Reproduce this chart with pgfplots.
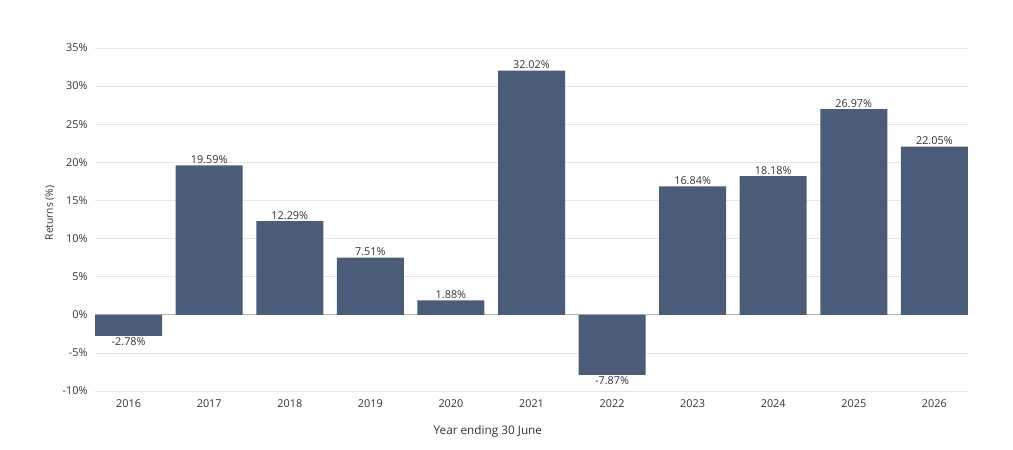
\documentclass[border=0pt]{standalone}
\usepackage{pgfplots}
\pgfplotsset{compat=1.18}
\usepackage{fontspec}
\setmainfont{Open Sans}
\definecolor{barc}{HTML}{4A5C78}
\definecolor{txt}{HTML}{333333}
\begin{document}
\begin{tikzpicture}[x=1bp,y=1bp]
\useasboundingbox (0,0) rectangle (1013,450);
\begin{axis}[
  at={(95bp,59bp)}, anchor=south west,
  scale only axis, width=873bp, height=343bp,
  xmin=-0.4175, xmax=10.4175,
  ymin=-10, ymax=35,
  ytick={-10,-5,...,35},
  yticklabel={\pgfmathprintnumber{\tick}\%},
  xtick={0,...,10},
  xticklabels={2016,2017,2018,2019,2020,2021,2022,2023,2024,2025,2026},
  /pgf/number format/assume math mode=true,
  axis line style={draw=none},
  major tick style={draw=none},
  ymajorgrids, grid style={draw=black!10, line width=0.6pt},
  extra y ticks={0}, extra y tick labels={},
  extra y tick style={grid style={draw=black!30, line width=0.8pt}},
  ticklabel style={font=\fontsize{10.9}{12}\selectfont, text=txt},
  yticklabel style={xshift=-4bp},
  xticklabel style={yshift=-1bp},
  xlabel={Year ending 30 June},
  xlabel style={font=\fontsize{11.8}{13}\selectfont, text=txt, at={(rel axis cs:0.45,0)}, anchor=center, yshift=-40bp},
  ylabel={Returns (\%)},
  ylabel style={font=\fontsize{10.3}{12}\selectfont, text=txt, at={(rel axis cs:0,0.519)}, anchor=center, yshift=45bp},
  ybar, bar width=67bp,
  nodes near coords={\pgfmathprintnumber[fixed,fixed zerofill,precision=2]{\pgfplotspointmeta}\%},
  nodes near coords align=vertical,
  every node near coord/.append style={font=\fontsize{10.9}{12}\selectfont, text=txt, inner sep=1.5bp},
]
\addplot[fill=barc, draw=none] coordinates {
(0,-2.78) (1,19.59) (2,12.29) (3,7.51) (4,1.88) (5,32.02)
(6,-7.87) (7,16.84) (8,18.18) (9,26.97) (10,22.05)};
\end{axis}
\end{tikzpicture}
\end{document}
